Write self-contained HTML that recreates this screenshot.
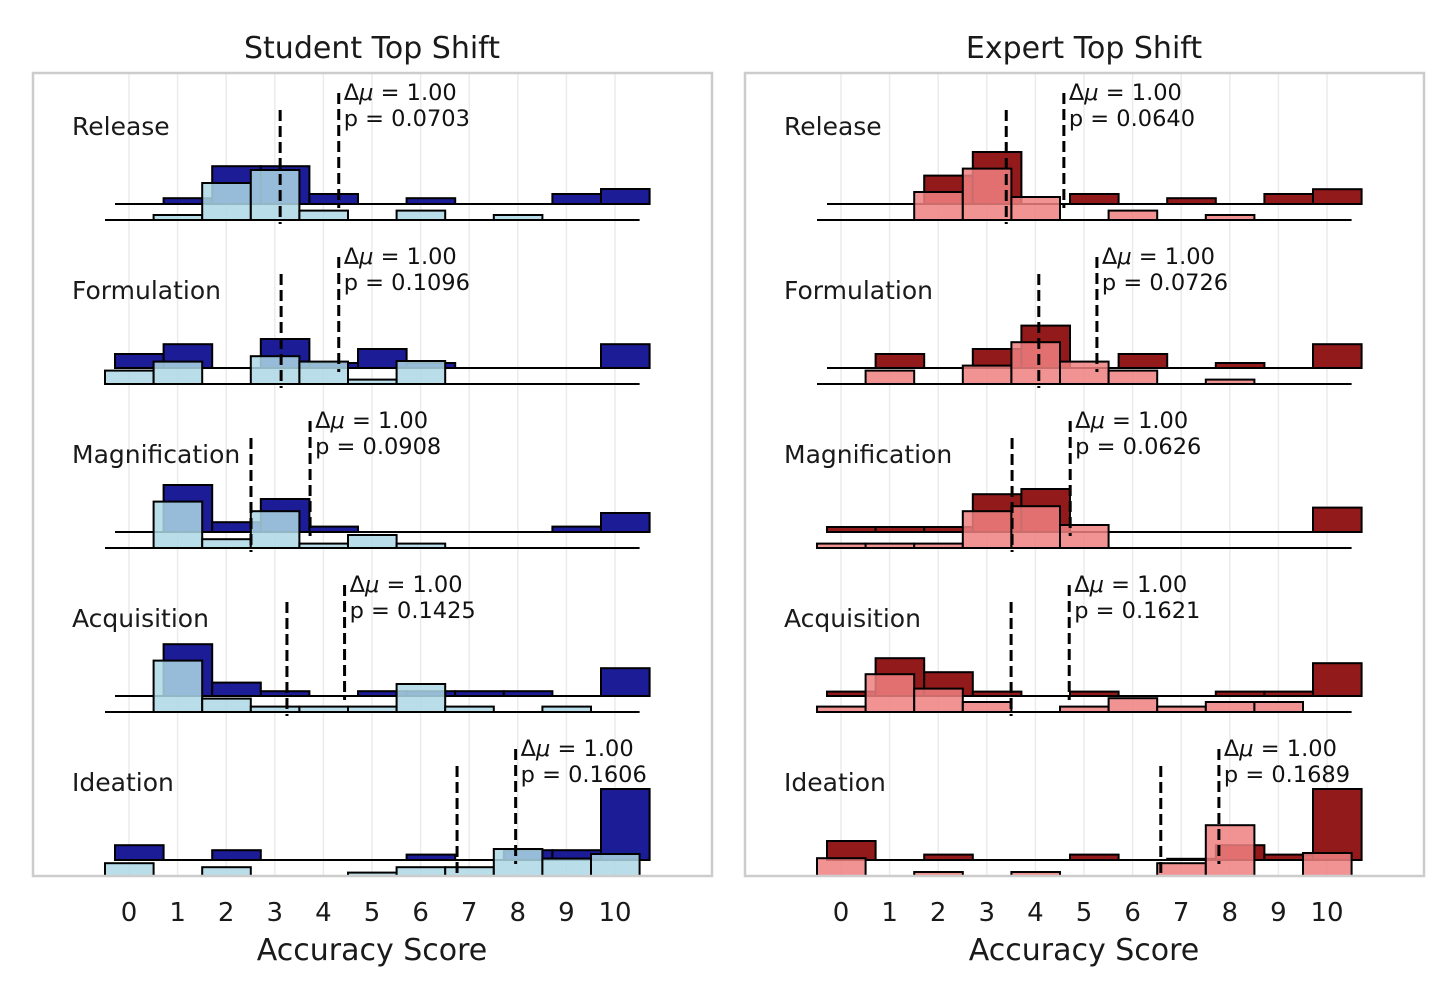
<!DOCTYPE html>
<html><head><meta charset="utf-8">
<style>
html,body{margin:0;padding:0;background:#fff;}
svg{display:block;font-family:"DejaVu Sans","Liberation Sans",sans-serif;}
</style></head>
<body>
<svg id="chart" width="1456" height="1001" viewBox="0 0 1456 1001" xmlns="http://www.w3.org/2000/svg"></svg>
<script>
// ---- data (bar heights in density units; 1 unit = 2px) ----
const categories = ["Release","Formulation","Magnification","Acquisition","Ideation"];
const ticks = [0,1,2,3,4,5,6,7,8,9,10];
const panelTitles = ["Student Top Shift","Expert Top Shift"];
const studentDark = [
  [0,2.9,18.9,18.9,5,0,2.9,0,0,5,7.5],
  [7,11.9,0,14.5,2.5,9.5,2.5,0,0,0,11.9],
  [0,23.5,4.9,16.5,2.7,0,0,0,0,2.7,9.5],
  [0,25.9,6.7,2.4,0,2.4,2.4,2.4,2.4,0,13.9],
  [7.4,0,4.9,0,0,0,2.7,0,4.9,4.9,35.5]
];
const studentLight = [
  [0,2.5,18.5,25,4.7,0,4.7,0,2.5,0,0],
  [6.7,11.2,0,13.9,11.2,2.2,11.5,0,0,0,0],
  [0,23.2,4.4,18.4,2.2,6.5,2.2,0,0,0,0],
  [0,25.7,6.7,2.7,2.7,2.7,14,2.7,0,2.7,0],
  [6.4,0,4.4,0,0,1.7,4.4,4.4,13.5,8.7,11]
];
const expertDark = [
  [0,0,14.2,26,0,5,0,2.9,0,5,7.4],
  [0,7,0,9.5,21.2,0,7,0,2.5,0,11.9],
  [2.5,2.5,2.5,18.9,21.5,0,0,0,0,0,12.2],
  [2.2,18.9,11.9,2.2,0,2.2,0,0,2.2,2.2,16.4],
  [9.5,0,2.7,0,0,2.7,0,0.6,7.4,2.7,35.5]
];
const expertLight = [
  [0,0,14,25.7,11.5,0,4.7,0,2.5,0,0],
  [0,6.7,0,9.2,20.9,11.2,6.7,0,2.2,0,0],
  [2.2,2.2,2.2,18.4,20.9,11.5,0,0,0,0,0],
  [2.7,18.9,11.7,5,0,2.7,6.9,2.7,5,5,0],
  [8.9,0,2,0,2,0,0,6.4,25.4,0,11.5]
];
const studentMeanLight = [3.11,3.13,2.51,3.25,6.75];
const studentMeanDark  = [4.11,4.11,3.52,4.23,7.75];
const expertMeanLight  = [3.40,4.07,3.52,3.50,6.58];
const expertMeanDark   = [4.38,5.06,4.51,4.49,7.57];
const deltaMu = ["1.00","1.00","1.00","1.00","1.00"];
const studentP = ["0.0703","0.1096","0.0908","0.1425","0.1606"];
const expertP  = ["0.0640","0.0726","0.0626","0.1621","0.1689"];

// ---- layout ----
const NS="http://www.w3.org/2000/svg";
const svg=document.getElementById('chart');
function mk(tag,attrs,parent){const e=document.createElementNS(NS,tag);for(const k in attrs)e.setAttribute(k,attrs[k]);(parent||svg).appendChild(e);return e;}
const UNIT=48.6, HSCALE=2;
const panels=[
  {x0:129,frameX:33,title:panelTitles[0],dark:studentDark,light:studentLight,mL:studentMeanLight,mD:studentMeanDark,p:studentP,dc:"#1c1c96",lc:"#add8e6",name:"student"},
  {x0:841,frameX:745,title:panelTitles[1],dark:expertDark,light:expertLight,mL:expertMeanLight,mD:expertMeanDark,p:expertP,dc:"#931a1a",lc:"#f08080",name:"expert"}
];
panels.forEach(P=>{
  const g=mk('g',{});
  
  
  const xs=v=>P.x0+v*UNIT;
  const frameW=679, frameTop=73, frameBot=876;
  ticks.forEach(t=>{
    const l=mk('line',{x1:xs(t),x2:xs(t),y1:frameTop,y2:frameBot,stroke:"#ebebeb","stroke-width":1.5},g);
    
    
  });
  const clip=mk('clipPath',{id:'clip-'+P.name},g);
  mk('rect',{x:P.frameX,y:frameTop,width:frameW,height:frameBot-frameTop},clip);
  const cg=mk('g',{'clip-path':'url(#clip-'+P.name+')'},g);
  categories.forEach((cat,r)=>{
    const baseD=204+164*r, baseL=220+164*r;
    const lab=mk('text',{x:P.frameX+39,y:baseD-78+9,'font-size':25,fill:"#1a1a1a"},g);
    lab.textContent=cat;
    
    
    const dOff=-14;
    const bl1=mk('line',{x1:xs(0)+dOff,x2:xs(11)+dOff,y1:baseD,y2:baseD,stroke:"#000","stroke-width":2},cg);
    
    
    P.dark[r].forEach((v,i)=>{
      if(v<=0) return;
      const h=v*HSCALE;
      const b=mk('rect',{x:xs(i)+dOff,y:baseD-h,width:UNIT,height:h,fill:P.dc,stroke:"#000","stroke-width":2},cg);
      
      
    });
    const lOff=-24;
    const bl2=mk('line',{x1:xs(0)+lOff,x2:xs(11)+lOff,y1:baseL,y2:baseL,stroke:"#000","stroke-width":2},cg);
    
    
    P.light[r].forEach((v,i)=>{
      if(v<=0) return;
      const h=v*HSCALE;
      const b=mk('rect',{x:xs(i)+lOff,y:baseL-h,width:UNIT,height:h,fill:P.lc,'fill-opacity':0.85,stroke:"#000","stroke-width":2},cg);
      
      
    });
    const mlx=xs(P.mL[r]);
    const m1=mk('line',{x1:mlx,x2:mlx,y1:baseL-110,y2:baseL+4,stroke:"#000","stroke-width":3,"stroke-dasharray":"11,5"},cg);
    
    
    const mdx=xs(P.mD[r])+10;
    const m2=mk('line',{x1:mdx,x2:mdx,y1:baseD-111,y2:baseD+4,stroke:"#000","stroke-width":3,"stroke-dasharray":"11,5"},cg);
    
    
    const t1=mk('text',{x:mdx+5,y:baseD-104,'font-size':22.5,fill:"#111"},g);
    t1.innerHTML='Δ<tspan font-style="italic">μ</tspan> = '+deltaMu[r];
    
    
    const t2=mk('text',{x:mdx+5,y:baseD-78,'font-size':22.5,fill:"#111"},g);
    t2.textContent='p = '+P.p[r];
    
    
  });
  const fr=mk('rect',{x:P.frameX,y:frameTop,width:frameW,height:frameBot-frameTop,fill:"none",stroke:"#cccccc","stroke-width":2.5},g);
  
  
  ticks.forEach(t=>{
    const tl=mk('text',{x:xs(t),y:921,'font-size':26,'text-anchor':'middle',fill:"#1a1a1a"},g);
    tl.textContent=String(t);
    
    
  });
  const xt=mk('text',{x:P.frameX+339,y:960,'font-size':30,'text-anchor':'middle',fill:"#1a1a1a"},g);
  xt.textContent='Accuracy Score';
  
  
  const tt=mk('text',{x:P.frameX+339,y:58,'font-size':30,'text-anchor':'middle',fill:"#1a1a1a"},g);
  tt.textContent=P.title;
  
  
});
</script>
</body></html>
